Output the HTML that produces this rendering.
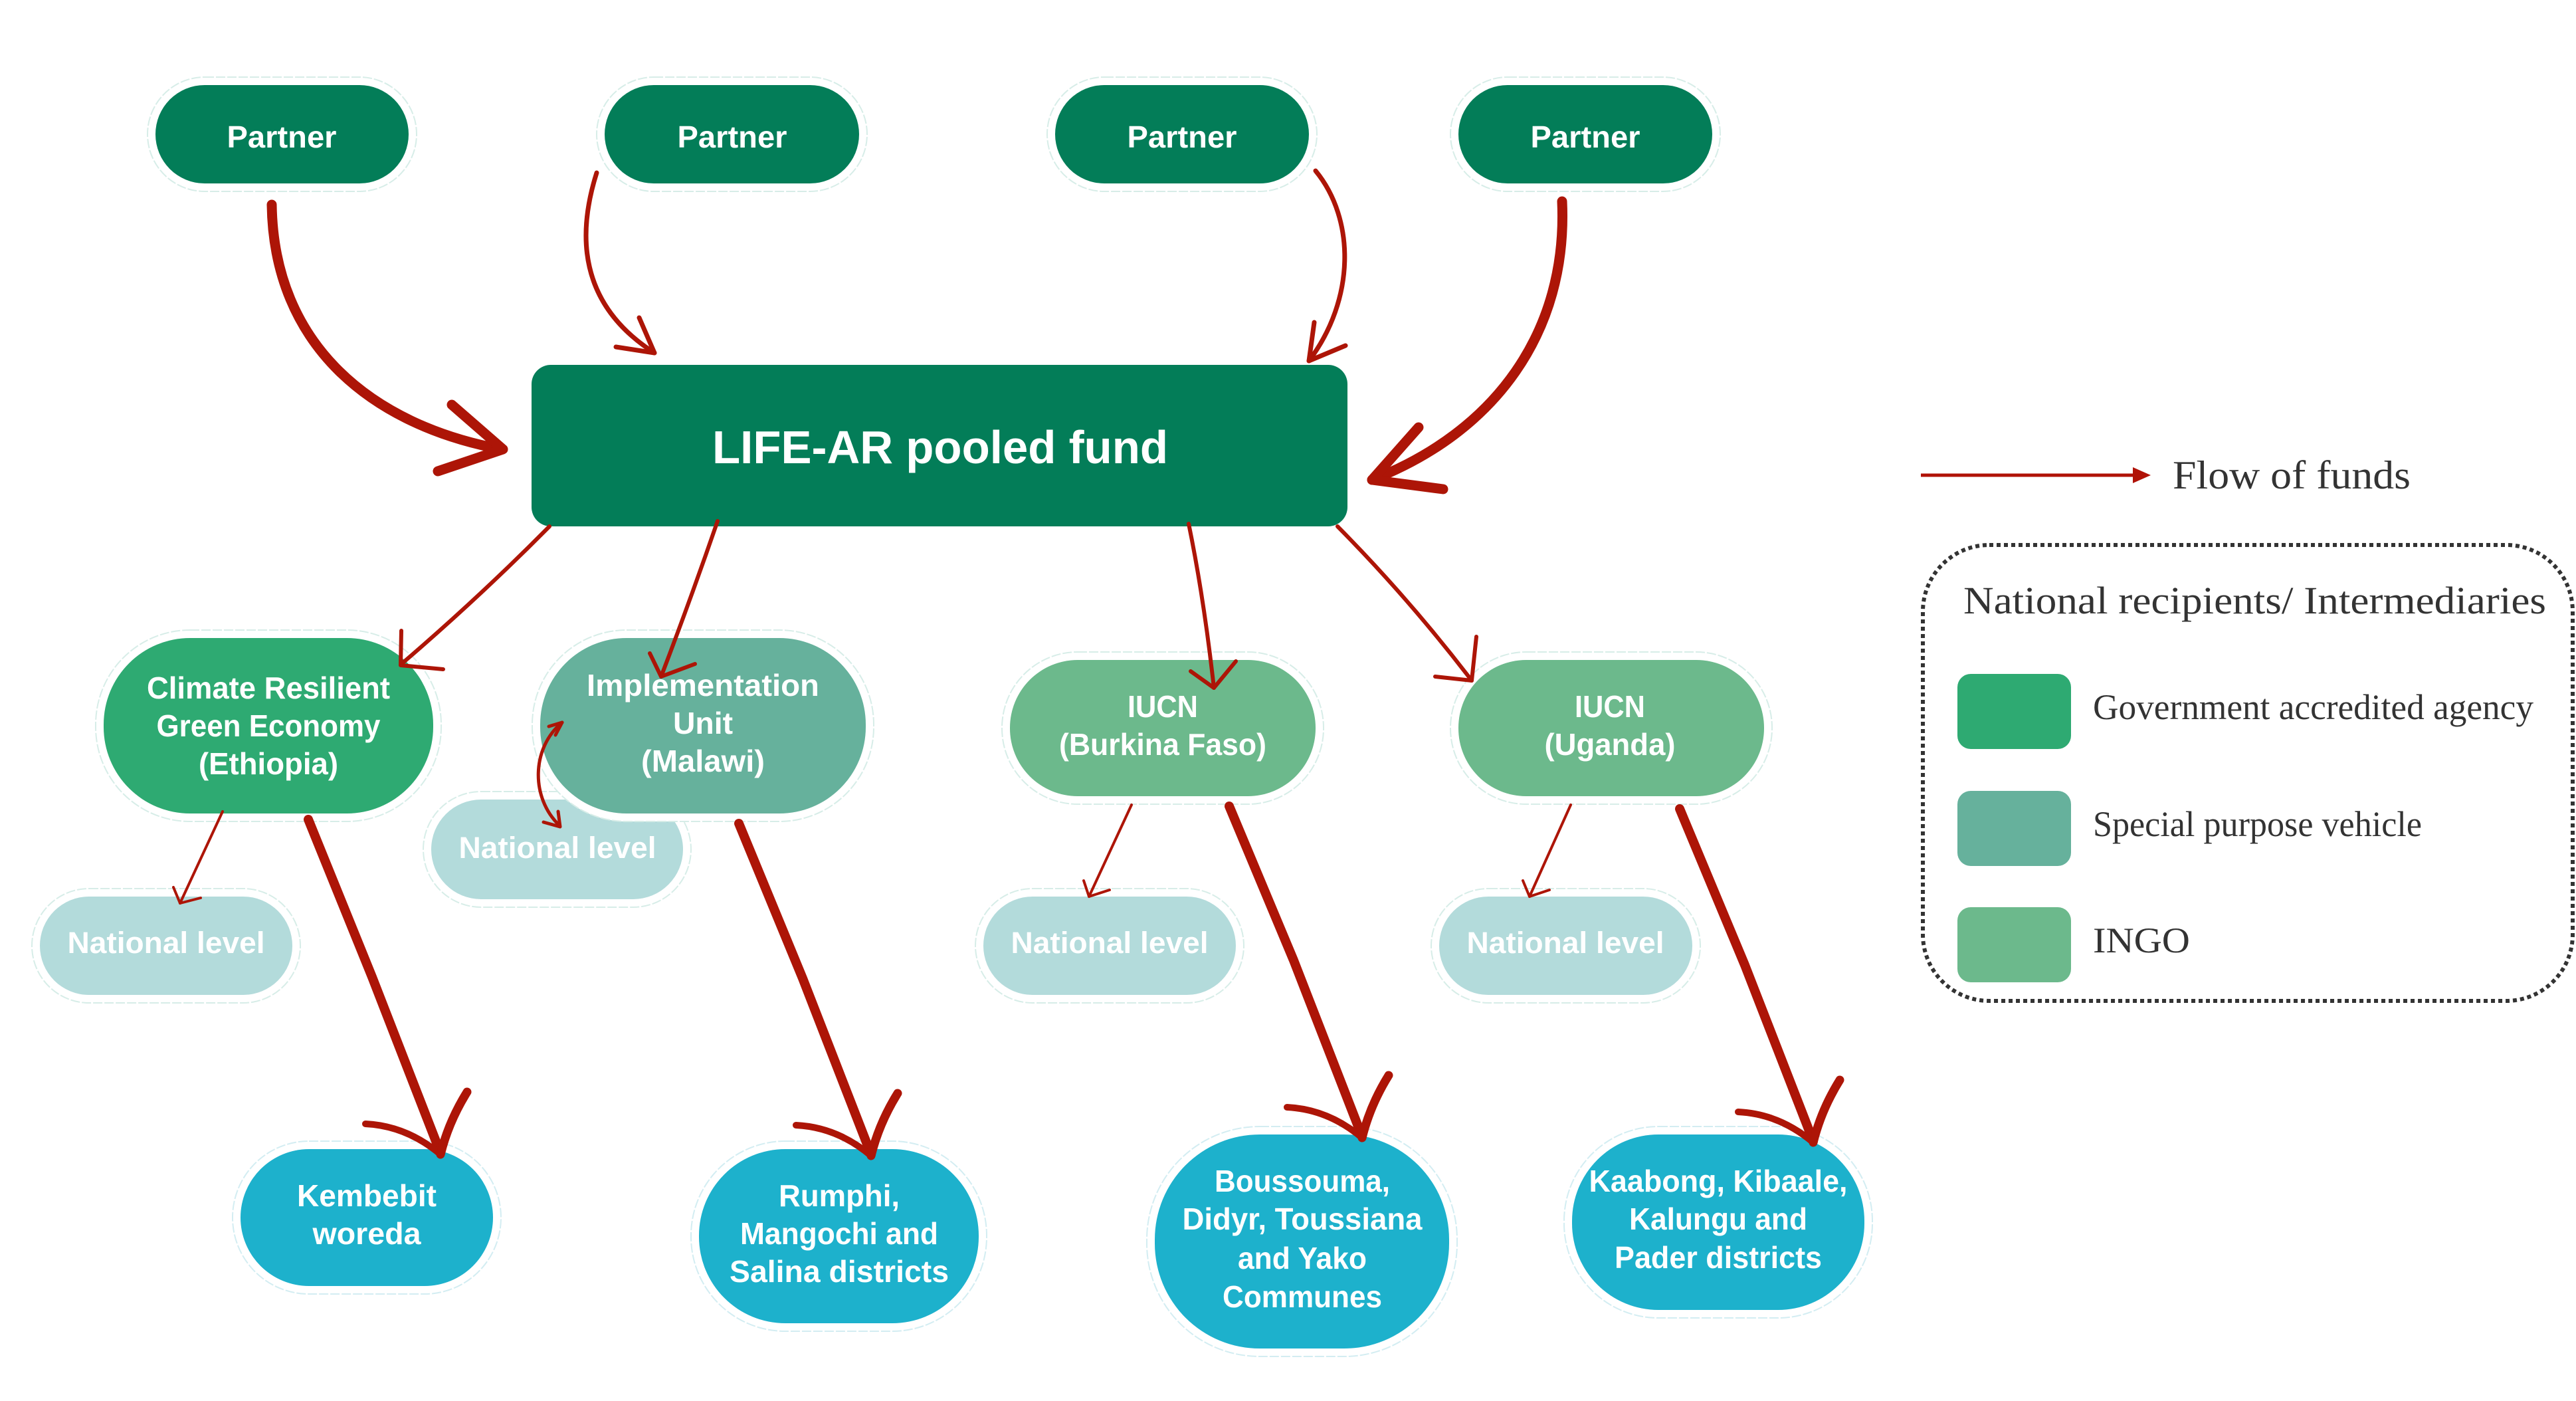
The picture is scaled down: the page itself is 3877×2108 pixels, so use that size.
<!DOCTYPE html>
<html><head><meta charset="utf-8"><style>
html,body{margin:0;padding:0;background:#fff;}
svg{display:block;}
.n{font-family:"Liberation Sans",Arial,sans-serif;font-weight:bold;fill:#fff;text-anchor:middle;}
.lg{font-family:"Liberation Serif","Times New Roman",serif;fill:#333;}
.halo{fill:#fff;stroke:#d7ede8;stroke-width:2;stroke-dasharray:14 3;}
.haloB{fill:#fff;stroke:#d3edf2;stroke-width:2;stroke-dasharray:14 3;}
.ar{fill:none;stroke:#ad1507;stroke-linecap:round;stroke-linejoin:round;}
</style></head><body>
<svg width="3877" height="2108" viewBox="0 0 3877 2108" xmlns="http://www.w3.org/2000/svg">
<rect width="3877" height="2108" fill="#fff"/>

<!-- Partners -->
<rect class="halo" x="222" y="116" width="405" height="172" rx="86"/>
<rect x="234" y="128" width="381" height="148" rx="74" fill="#037d58"/>
<text class="n" x="424" y="222" font-size="46" textLength="165" lengthAdjust="spacingAndGlyphs">Partner</text>

<rect class="halo" x="898" y="116" width="407" height="172" rx="86"/>
<rect x="910" y="128" width="383" height="148" rx="74" fill="#037d58"/>
<text class="n" x="1102" y="222" font-size="46" textLength="165" lengthAdjust="spacingAndGlyphs">Partner</text>

<rect class="halo" x="1576" y="116" width="406" height="172" rx="86"/>
<rect x="1588" y="128" width="382" height="148" rx="74" fill="#037d58"/>
<text class="n" x="1779" y="222" font-size="46" textLength="165" lengthAdjust="spacingAndGlyphs">Partner</text>

<rect class="halo" x="2183" y="116" width="406" height="172" rx="86"/>
<rect x="2195" y="128" width="382" height="148" rx="74" fill="#037d58"/>
<text class="n" x="2386" y="222" font-size="46" textLength="165" lengthAdjust="spacingAndGlyphs">Partner</text>

<!-- LIFE-AR -->
<rect x="800" y="549" width="1228" height="243" rx="29" fill="#037d58"/>
<text class="n" x="1415" y="697" font-size="70" textLength="686" lengthAdjust="spacingAndGlyphs">LIFE-AR pooled fund</text>

<!-- National level nodes (behind) -->
<rect class="halo" x="637" y="1191" width="403" height="174" rx="87"/>
<rect x="649" y="1203" width="379" height="150" rx="75" fill="#b3dbdb"/>
<text class="n" x="839" y="1291" font-size="45" textLength="297" lengthAdjust="spacingAndGlyphs">National level</text>

<rect class="halo" x="48" y="1337" width="404" height="172" rx="86"/>
<rect x="60" y="1349" width="380" height="148" rx="74" fill="#b3dbdb"/>
<text class="n" x="250" y="1434" font-size="45" textLength="297" lengthAdjust="spacingAndGlyphs">National level</text>

<rect class="halo" x="1468" y="1337" width="404" height="172" rx="86"/>
<rect x="1480" y="1349" width="380" height="148" rx="74" fill="#b3dbdb"/>
<text class="n" x="1670" y="1434" font-size="45" textLength="297" lengthAdjust="spacingAndGlyphs">National level</text>

<rect class="halo" x="2154" y="1337" width="405" height="172" rx="86"/>
<rect x="2166" y="1349" width="381" height="148" rx="74" fill="#b3dbdb"/>
<text class="n" x="2356" y="1434" font-size="45" textLength="297" lengthAdjust="spacingAndGlyphs">National level</text>

<!-- Ethiopia -->
<rect class="halo" x="144" y="948" width="520" height="288" rx="142"/>
<rect x="156" y="960" width="496" height="264" rx="130" fill="#2eaa72"/>
<text class="n" x="404" y="1051" font-size="46" textLength="366" lengthAdjust="spacingAndGlyphs">Climate Resilient</text>
<text class="n" x="404" y="1108" font-size="46" textLength="337" lengthAdjust="spacingAndGlyphs">Green Economy</text>
<text class="n" x="404" y="1165" font-size="46" textLength="210" lengthAdjust="spacingAndGlyphs">(Ethiopia)</text>

<!-- Malawi -->
<rect class="halo" x="801" y="948" width="514" height="288" rx="142"/>
<rect x="813" y="960" width="490" height="264" rx="130" fill="#66b19c"/>
<text class="n" x="1058" y="1047" font-size="46" textLength="350" lengthAdjust="spacingAndGlyphs">Implementation</text>
<text class="n" x="1058" y="1104" font-size="46" textLength="90" lengthAdjust="spacingAndGlyphs">Unit</text>
<text class="n" x="1058" y="1161" font-size="46" textLength="186" lengthAdjust="spacingAndGlyphs">(Malawi)</text>

<!-- IUCN -->
<rect class="halo" x="1508" y="981" width="484" height="229" rx="114"/>
<rect x="1520" y="993" width="460" height="205" rx="102" fill="#6cb98c"/>
<text class="n" x="1750" y="1079" font-size="46" textLength="106" lengthAdjust="spacingAndGlyphs">IUCN</text>
<text class="n" x="1750" y="1136" font-size="46" textLength="312" lengthAdjust="spacingAndGlyphs">(Burkina Faso)</text>

<rect class="halo" x="2183" y="981" width="484" height="229" rx="114"/>
<rect x="2195" y="993" width="460" height="205" rx="102" fill="#6cb98c"/>
<text class="n" x="2423" y="1079" font-size="46" textLength="106" lengthAdjust="spacingAndGlyphs">IUCN</text>
<text class="n" x="2423" y="1136" font-size="46" textLength="197" lengthAdjust="spacingAndGlyphs">(Uganda)</text>

<!-- Districts -->
<rect class="haloB" x="350" y="1717" width="404" height="230" rx="115"/>
<rect x="362" y="1729" width="380" height="206" rx="103" fill="#1db1cc"/>
<text class="n" x="552" y="1815" font-size="46" textLength="210" lengthAdjust="spacingAndGlyphs">Kembebit</text>
<text class="n" x="552" y="1872" font-size="46" textLength="163" lengthAdjust="spacingAndGlyphs">woreda</text>

<rect class="haloB" x="1040" y="1717" width="445" height="286" rx="142"/>
<rect x="1052" y="1729" width="421" height="262" rx="130" fill="#1db1cc"/>
<text class="n" x="1263" y="1815" font-size="46" textLength="182" lengthAdjust="spacingAndGlyphs">Rumphi,</text>
<text class="n" x="1263" y="1872" font-size="46" textLength="298" lengthAdjust="spacingAndGlyphs">Mangochi and</text>
<text class="n" x="1263" y="1929" font-size="46" textLength="330" lengthAdjust="spacingAndGlyphs">Salina  districts</text>

<rect class="haloB" x="1726" y="1695" width="467" height="346" rx="170"/>
<rect x="1738" y="1707" width="443" height="322" rx="158" fill="#1db1cc"/>
<text class="n" x="1960" y="1793" font-size="46" textLength="264" lengthAdjust="spacingAndGlyphs">Boussouma,</text>
<text class="n" x="1960" y="1850" font-size="46" textLength="361" lengthAdjust="spacingAndGlyphs">Didyr, Toussiana</text>
<text class="n" x="1960" y="1909" font-size="46" textLength="194" lengthAdjust="spacingAndGlyphs">and Yako</text>
<text class="n" x="1960" y="1967" font-size="46" textLength="240" lengthAdjust="spacingAndGlyphs">Communes</text>

<rect class="haloB" x="2354" y="1695" width="464" height="288" rx="142"/>
<rect x="2366" y="1707" width="440" height="264" rx="130" fill="#1db1cc"/>
<text class="n" x="2586" y="1793" font-size="46" textLength="389" lengthAdjust="spacingAndGlyphs">Kaabong, Kibaale,</text>
<text class="n" x="2586" y="1850" font-size="46" textLength="268" lengthAdjust="spacingAndGlyphs">Kalungu and</text>
<text class="n" x="2586" y="1908" font-size="46" textLength="312" lengthAdjust="spacingAndGlyphs">Pader districts</text>

<!-- Arrows: partners to fund -->
<path class="ar" stroke-width="15" d="M409,308 C412,520 560,640 755,676"/>
<path class="ar" stroke-width="15" d="M680,609 L757,676 L659,709"/>

<path class="ar" stroke-width="7" d="M898,260 C860,380 890,470 985,531"/>
<path class="ar" stroke-width="7" d="M962,478 L985,531 L927,522"/>

<path class="ar" stroke-width="7" d="M1980,257 C2040,330 2040,450 1970,543"/>
<path class="ar" stroke-width="7" d="M1978,485 L1970,543 L2025,520"/>

<path class="ar" stroke-width="15" d="M2351,303 C2360,500 2250,650 2065,722"/>
<path class="ar" stroke-width="15" d="M2135,643 L2065,722 L2172,736"/>

<!-- Fund to intermediaries -->
<path class="ar" stroke-width="6" d="M827,792 Q720,900 603,1000"/>
<path class="ar" stroke-width="6" d="M604,949 L603,1001 L667,1007"/>

<path class="ar" stroke-width="6" d="M1080,784 Q1040,900 995,1018"/>
<path class="ar" stroke-width="6" d="M978,983 L995,1018 L1046,999"/>

<path class="ar" stroke-width="6" d="M1789,788 Q1812,900 1827,1035"/>
<path class="ar" stroke-width="6" d="M1792,1010 L1827,1035 L1860,995"/>

<path class="ar" stroke-width="6" d="M2013,792 Q2120,900 2215,1024"/>
<path class="ar" stroke-width="6" d="M2222,958 L2215,1024 L2160,1018"/>

<!-- to national level -->
<path class="ar" stroke-width="4" d="M335,1221 L271,1359"/>
<path class="ar" stroke-width="4" d="M261,1335 L271,1359 L302,1351"/>
<path class="ar" stroke-width="4" d="M1703,1211 L1639,1349"/>
<path class="ar" stroke-width="4" d="M1631,1325 L1639,1349 L1670,1339"/>
<path class="ar" stroke-width="4" d="M2364,1211 L2302,1349"/>
<path class="ar" stroke-width="4" d="M2292,1325 L2302,1349 L2332,1339"/>

<!-- Malawi double arrow -->
<path class="ar" stroke-width="5" d="M846,1087 C800,1125 798,1200 842,1242"/>
<path class="ar" stroke-width="5" d="M826,1093 L846,1087 L836,1106"/>
<path class="ar" stroke-width="5" d="M818,1237 L843,1244 L840,1221"/>

<!-- to districts -->
<g>
<path class="ar" stroke-width="14" d="M464,1233 L560,1470 L663,1735"/>
<path class="ar" stroke-width="10" d="M550,1691 Q612,1694 663,1737"/>
<path class="ar" stroke-width="13" d="M703,1643 Q675,1688 663,1737"/>
</g>
<g transform="translate(648,2)">
<path class="ar" stroke-width="14" d="M464,1237 L560,1470 L663,1735"/>
<path class="ar" stroke-width="10" d="M550,1691 Q612,1694 663,1737"/>
<path class="ar" stroke-width="13" d="M703,1643 Q675,1688 663,1737"/>
</g>
<g transform="translate(1387,-25)">
<path class="ar" stroke-width="14" d="M463,1238 L560,1470 L663,1735"/>
<path class="ar" stroke-width="10" d="M550,1691 Q612,1694 663,1737"/>
<path class="ar" stroke-width="13" d="M703,1643 Q675,1688 663,1737"/>
</g>
<g transform="translate(2066,-18)">
<path class="ar" stroke-width="14" d="M462,1235 L560,1470 L663,1735"/>
<path class="ar" stroke-width="10" d="M550,1691 Q612,1694 663,1737"/>
<path class="ar" stroke-width="13" d="M703,1643 Q675,1688 663,1737"/>
</g>

<!-- Legend -->
<line x1="2891" y1="715" x2="3214" y2="715" stroke="#b01207" stroke-width="5"/>
<polygon points="3210,703 3237,715 3210,727" fill="#b01207"/>
<text class="lg" x="3270" y="735" font-size="60" textLength="358" lengthAdjust="spacingAndGlyphs">Flow of  funds</text>

<rect x="2894" y="820" width="978" height="686" rx="100" fill="none" stroke="#333" stroke-width="6" stroke-dasharray="6 5"/>
<text class="lg" x="2955" y="923" font-size="58" textLength="877" lengthAdjust="spacingAndGlyphs">National recipients/ Intermediaries</text>

<rect x="2946" y="1014" width="171" height="113" rx="20" fill="#2eaa72"/>
<text class="lg" x="3150" y="1082" font-size="54" textLength="663" lengthAdjust="spacingAndGlyphs">Government accredited agency</text>

<rect x="2946" y="1190" width="171" height="113" rx="20" fill="#66b19c"/>
<text class="lg" x="3150" y="1258" font-size="54" textLength="495" lengthAdjust="spacingAndGlyphs">Special purpose vehicle</text>

<rect x="2946" y="1365" width="171" height="113" rx="20" fill="#6cb98c"/>
<text class="lg" x="3150" y="1433" font-size="54" textLength="146" lengthAdjust="spacingAndGlyphs">INGO</text>
</svg>
</body></html>
